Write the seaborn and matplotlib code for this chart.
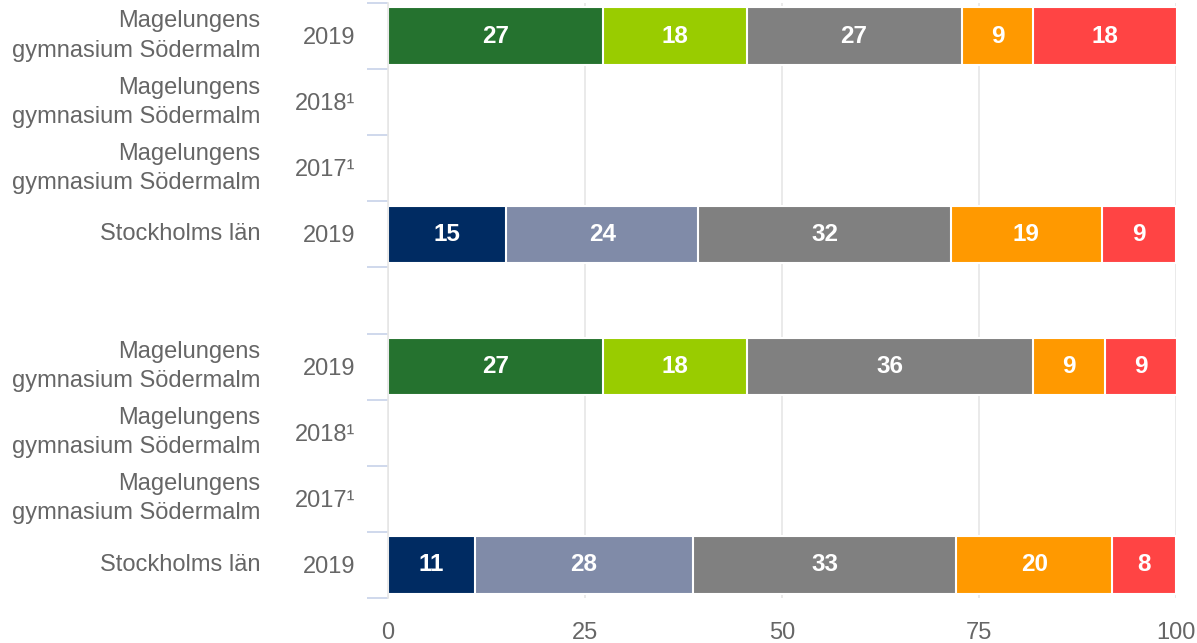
import numpy as np
import matplotlib
matplotlib.use('Agg')
import matplotlib.pyplot as plt
import matplotlib.transforms as mtransforms
import pandas as pd
import seaborn as sns

sns.set_style('white')
plt.rcParams['font.family'] = ['Liberation Sans', 'DejaVu Sans']

# rows top to bottom (row 4 is the empty gap between the two blocks)
schools = ['Magelungens\ngymnasium Södermalm', 'Magelungens\ngymnasium Södermalm',
           'Magelungens\ngymnasium Södermalm', 'Stockholms län', '',
           'Magelungens\ngymnasium Södermalm', 'Magelungens\ngymnasium Södermalm',
           'Magelungens\ngymnasium Södermalm', 'Stockholms län']
years = ['2019', '2018¹', '2017¹', '2019', '', '2019', '2018¹', '2017¹', '2019']

# segment values (percent) per row, None = no data
seg1 = [27.3, None, None, 15.0, None, 27.3, None, None, 11.0]
seg2 = [18.2, None, None, 24.4, None, 18.2, None, None, 27.7]
seg3 = [27.3, None, None, 32.0, None, 36.4, None, None, 33.4]
seg4 = [9.1, None, None, 19.2, None, 9.1, None, None, 19.8]
seg5 = [18.2, None, None, 9.4, None, 9.1, None, None, 8.1]

school_colors = ['#25722f', '#99cc00']
region_colors = ['#002b62', '#808ba8']
grey = '#808080'
orange = '#ff9900'
red = '#ff4444'

rows = [f'r{i}' for i in range(len(schools))]
df = pd.DataFrame({'row': rows, 's1': seg1, 's2': seg2, 's3': seg3,
                   's4': seg4, 's5': seg5}).astype({f's{k}': float for k in range(1, 6)})
segs = ['s1', 's2', 's3', 's4', 's5']
cum = df[segs].cumsum(axis=1)
cum['row'] = df['row']
cum = cum.dropna()

def row_colors(k):
    pal = {}
    for i, r in enumerate(rows):
        if k < 2:
            pal[r] = region_colors[k] if schools[i] == 'Stockholms län' else school_colors[k]
        else:
            pal[r] = [grey, orange, red][k - 2]
    return pal

fig = plt.figure(figsize=(11.97, 6.43), dpi=100)
ax = fig.add_axes([388 / 1197, 1 - 598 / 643, 788 / 1197, 595 / 643])

for k in range(4, -1, -1):
    sns.barplot(data=cum, y='row', x=segs[k], hue='row', order=rows,
                palette=row_colors(k), orient='h', width=0.87, legend=False,
                edgecolor='white', linewidth=1.5, saturation=1, ax=ax, zorder=2)

# value labels
for i, r in enumerate(rows):
    left = 0.0
    for s in segs:
        v = df.loc[i, s]
        if pd.isna(v):
            continue
        ax.text(left + v / 2, i, f'{v:.0f}', ha='center', va='center',
                color='white', fontsize=17.5, fontweight='bold', zorder=3)
        left += v

ax.set_xlim(0, 100)
ax.set_ylim(len(rows) - 0.5, -0.5)
ax.set_xlabel('')
ax.set_ylabel('')
ax.set_xticks([0, 25, 50, 75, 100])
ax.tick_params(axis='x', length=0, pad=17, labelsize=17, labelcolor='#666666')
ax.set_yticks(np.arange(len(rows)))
ax.set_yticklabels([])
ax.tick_params(axis='y', which='major', length=0)
ax.set_yticks(np.arange(len(rows) + 1) - 0.5, minor=True)
ax.tick_params(axis='y', which='minor', left=True, length=15, width=1.3, color='#ccd6eb')
ax.grid(axis='x', color='#e6e6e6', linewidth=1.2, zorder=0)
ax.set_axisbelow(True)
for side in ['top', 'right', 'bottom']:
    ax.spines[side].set_visible(False)
ax.spines['left'].set_color('#e6e6e6')
ax.spines['left'].set_linewidth(1.2)

trans = mtransforms.blended_transform_factory(ax.transAxes, ax.transData)
for i in range(len(rows)):
    ax.text(-128 / 788, i, schools[i], transform=trans, ha='right', va='center',
            fontsize=17, color='#666666', linespacing=1.42)
    ax.text(-33 / 788, i + 0.03, years[i], transform=trans, ha='right', va='center',
            fontsize=17, color='#666666')

fig.savefig('out.png', dpi=100)
